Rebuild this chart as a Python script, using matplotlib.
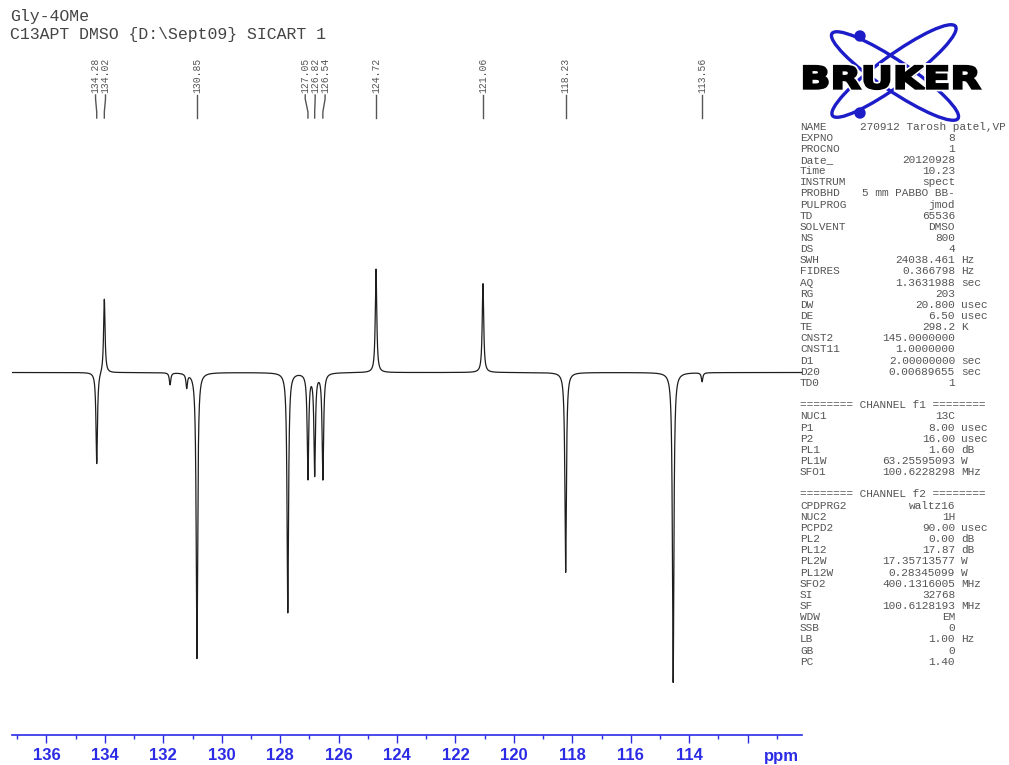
import numpy as np
import matplotlib
matplotlib.use('Agg')
import matplotlib.pyplot as plt
from matplotlib.patches import Ellipse, Circle, PathPatch
from matplotlib.textpath import TextPath
from matplotlib.font_manager import FontProperties
from matplotlib.ticker import FixedLocator, FixedFormatter, MultipleLocator

W, H = 1009, 765

# peaks (ppm, intensity in arbitrary units; APT -> CH/CH3 negative)
peak_ppm = [134.28, 134.02, 131.77, 131.20, 130.85, 127.74, 127.05, 126.82,
            126.54, 124.72, 121.06, 118.23, 114.55, 113.56]
peak_int = [-92, 74.5, -12, -14, -286, -240, -105, -101,
            -106, 103.5, 89, -200, -310, -9]
peak_width = 0.03

# peak-picking labels shown at the top
picked_ppm = [134.28, 134.02, 130.85, 127.05, 126.82, 126.54, 124.72, 121.06, 118.23, 113.56]

axis_ticks = [136, 134, 132, 130, 128, 126, 124, 122, 120, 118, 116, 114, 112]
axis_labels = ['136', '134', '132', '130', '128', '126', '124', '122', '120', '118', '116', '114', '']

title_lines = ['Gly-4OMe', 'C13APT DMSO {D:\\Sept09} SICART 1']

param_names = ['NAME', 'EXPNO', 'PROCNO', 'Date_', 'Time', 'INSTRUM', 'PROBHD', 'PULPROG',
               'TD', 'SOLVENT', 'NS', 'DS', 'SWH', 'FIDRES', 'AQ', 'RG', 'DW', 'DE', 'TE',
               'CNST2', 'CNST11', 'D1', 'D20', 'TD0', '',
               '======== CHANNEL f1 ========',
               'NUC1', 'P1', 'P2', 'PL1', 'PL1W', 'SFO1', '',
               '======== CHANNEL f2 ========',
               'CPDPRG2', 'NUC2', 'PCPD2', 'PL2', 'PL12', 'PL2W', 'PL12W', 'SFO2', 'SI',
               'SF', 'WDW', 'SSB', 'LB', 'GB', 'PC']
param_values = ['270912 Tarosh patel,VP', '8', '1', '20120928', '10.23', 'spect',
                '5 mm PABBO BB-', 'jmod', '65536', 'DMSO', '800', '4', '24038.461',
                '0.366798', '1.3631988', '203', '20.800', '6.50', '298.2', '145.0000000',
                '1.0000000', '2.00000000', '0.00689655', '1', '',
                '',
                '13C', '8.00', '16.00', '1.60', '63.25595093', '100.6228298', '',
                '',
                'waltz16', '1H', '90.00', '0.00', '17.87', '17.35713577', '0.28345099',
                '400.1316005', '32768', '100.6128193', 'EM', '0', '1.00', '0', '1.40']
param_units = ['', '', '', '', '', '', '', '', '', '', '', '', 'Hz', 'Hz', 'sec', '',
               'usec', 'usec', 'K', '', '', 'sec', 'sec', '', '',
               '',
               '', 'usec', 'usec', 'dB', 'W', 'MHz', '',
               '',
               '', '', 'usec', 'dB', 'dB', 'W', 'W', 'MHz', '', 'MHz', '', '', 'Hz', '', '']

blue = '#2b2be6'
logo_blue = '#1c1cc8'
mono = 'Liberation Mono'
plt.rcParams['font.family'] = ['Liberation Sans Narrow', 'Liberation Sans', 'DejaVu Sans']

fig = plt.figure(figsize=(W / 100, H / 100), dpi=100)

# spectrum axes: x from 12 px to 802 px, axis line at 735 px from top
ax_top, ax_bot = 60, 735
ax = fig.add_axes([12 / W, 1 - ax_bot / H, 790 / W, (ax_bot - ax_top) / H])

x = np.linspace(137.18, 110.14, 20000)
y = np.zeros_like(x)
for p, a in zip(peak_ppm, peak_int):
    y += a / (1 + ((x - p) / peak_width) ** 2)
ax.plot(x, y, color='#1e1e1e', lw=0.9)

ax.set_xlim(137.18, 110.14)
ax.set_ylim(-362.5, 312.5)
ax.set_yticks([])
for s in ['left', 'right', 'top']:
    ax.spines[s].set_visible(False)
ax.spines['bottom'].set_color(blue)
ax.spines['bottom'].set_linewidth(1.2)
ax.xaxis.set_major_locator(FixedLocator(axis_ticks))
ax.xaxis.set_major_formatter(FixedFormatter(axis_labels))
ax.xaxis.set_minor_locator(MultipleLocator(1))
ax.tick_params(axis='x', which='major', length=6, width=1, color=blue,
               labelcolor=blue, labelsize=12, pad=3)
ax.tick_params(axis='x', which='minor', length=3, width=1, color=blue)
for lab in ax.get_xticklabels():
    lab.set_fontweight('bold')


def frac(ypx):
    return (ax_bot - ypx) / (ax_bot - ax_top)


ax.text(110.85, frac(756), 'ppm', transform=ax.get_xaxis_transform(),
        ha='center', va='center', color=blue, fontsize=12, fontweight='bold')

# spread the peak labels so close ones do not overlap
sep = 0.34
picked = sorted(picked_ppm, reverse=True)
groups = [[picked[0]]]
for p in picked[1:]:
    if groups[-1][-1] - p < sep:
        groups[-1].append(p)
    else:
        groups.append([p])
label_x = []
for g in groups:
    c = np.mean(g)
    n = len(g)
    for k in range(n):
        label_x.append(c + sep * ((n - 1) / 2 - k))

tr = ax.get_xaxis_transform()
for p, lx in zip(picked, label_x):
    ax.text(lx, frac(93), '%.2f' % p, transform=tr, rotation=90, ha='center',
            va='bottom', fontsize=7, family=mono, color='#555555')
    ax.plot([lx, lx, p, p], [frac(95), frac(99), frac(112), frac(118)],
            transform=tr, color='#555555', lw=1, clip_on=False)

# title lines
fig.text(10 / W, 1 - 17 / H, title_lines[0], family=mono, fontsize=11.9,
         color='#444444', va='center')
fig.text(10 / W, 1 - 34 / H, title_lines[1], family=mono, fontsize=11.9,
         color='#444444', va='center')

# parameter listing
for i, (nm, val, un) in enumerate(zip(param_names, param_values, param_units)):
    yy = 1 - (126.5 + i * 11.15) / H
    fig.text(800 / W, yy, nm, family=mono, fontsize=8, color='#555555', va='center')
    if nm == 'NAME':
        fig.text(860 / W, yy, val, family=mono, fontsize=8, color='#555555', va='center')
    elif val:
        fig.text(955 / W, yy, val, family=mono, fontsize=8, color='#555555',
                 va='center', ha='right')
    if un:
        fig.text(961 / W, yy, un, family=mono, fontsize=8, color='#555555', va='center')

# Bruker logo, in pixel coordinates
lax = fig.add_axes([785 / W, 1 - 125 / H, 205 / W, 105 / H])
lax.set_xlim(785, 990)
lax.set_ylim(125, 20)
lax.axis('off')
lax.add_patch(Ellipse((895, 76), 152, 30, angle=34, fill=False, ec=logo_blue, lw=2.4))
lax.add_patch(Ellipse((894, 71), 152, 30, angle=-36, fill=False, ec=logo_blue, lw=2.4))
lax.add_patch(Circle((860, 36), 5, color=logo_blue))
lax.add_patch(Circle((860, 113), 5, color=logo_blue))
tp = TextPath((0, 0), 'BRUKER', size=1, prop=FontProperties(family='DejaVu Sans', weight='bold'))
ext = tp.get_extents()
x0, x1, y0, y1 = 804, 980, 66, 89
verts = tp.vertices.copy()
verts[:, 0] = x0 + (verts[:, 0] - ext.x0) / ext.width * (x1 - x0)
verts[:, 1] = y1 - (verts[:, 1] - ext.y0) / ext.height * (y1 - y0)
tp = matplotlib.path.Path(verts, tp.codes)
lax.add_patch(PathPatch(tp, fc='white', ec='white', lw=4, zorder=3))
lax.add_patch(PathPatch(tp, fc='black', ec='black', lw=1.6, zorder=4))

fig.savefig('out.png', dpi=100)
